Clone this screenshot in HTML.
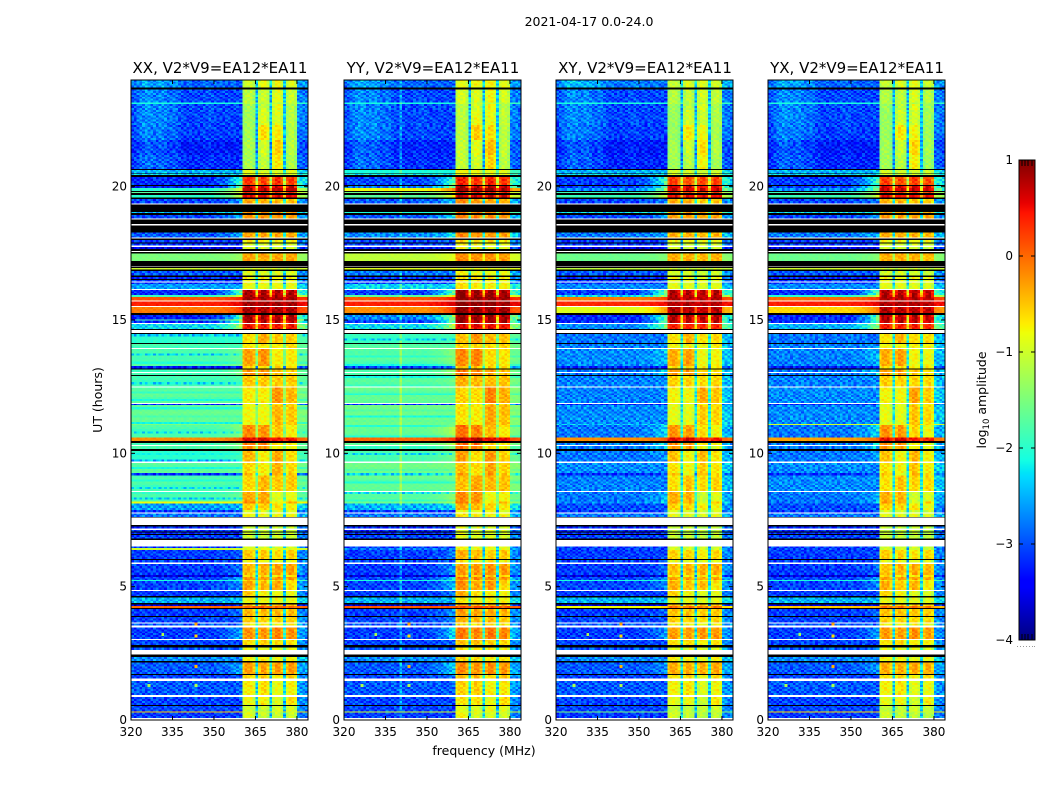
<!DOCTYPE html>
<html lang="en">
<head>
<meta charset="utf-8">
<title>2021-04-17 0.0-24.0</title>
<style>
html,body{margin:0;padding:0;background:#fff;}
body{width:1050px;height:800px;overflow:hidden;}
svg{display:block;}
text{font-family:"DejaVu Sans","Liberation Sans",sans-serif;fill:#000;}
</style>
</head>
<body>
<svg id="chart" xmlns="http://www.w3.org/2000/svg" width="1050" height="800" viewBox="0 0 1050 800">
<rect x="0" y="0" width="1050" height="800" fill="#fff"/>
<text x="589" y="26" font-size="12.5" text-anchor="middle">2021-04-17 0.0-24.0</text>
<text x="484" y="755" font-size="12.5" text-anchor="middle">frequency (MHz)</text>
<text x="102" y="400" font-size="12.5" text-anchor="middle" transform="rotate(-90 102 400)">UT (hours)</text>
<text x="986" y="400" font-size="12.5" text-anchor="middle" transform="rotate(-90 986 400)">log<tspan font-size="8.5" dy="3">10</tspan><tspan dy="-3"> amplitude</tspan></text>
<g id="panels"></g>
<g id="colorbar"></g>
</svg>
<script>
// Panel labels and axis ticks
const panelTitles = ["XX, V2*V9=EA12*EA11","YY, V2*V9=EA12*EA11","XY, V2*V9=EA12*EA11","YX, V2*V9=EA12*EA11"];
const freqTicks = [320,335,350,365,380];
const hourTicks = [0,5,10,15,20];
const colorTicks = [1,0,-1,-2,-3,-4];

// Start time (hours UT) of each time span; the last span ends at 24 h
const spanStartHours = [0,.08,.28,.32,.53,.56,.86,.94,1.46,1.56,1.69,1.73,2.15,2.21,2.37,2.45,2.63,2.71,2.81,3.0,
3.04,3.47,3.54,3.62,3.66,3.87,3.9,4.16,4.2,4.28,4.34,4.39,4.59,4.65,4.84,4.88,5.21,5.25,5.37,5.44,
5.85,5.91,6.0,6.04,6.38,6.45,6.5,6.75,6.8,6.94,6.97,7.03,7.07,7.12,7.19,7.25,7.31,7.6,7.62,7.75,
7.78,7.87,8.12,8.2,8.55,8.59,9.16,9.27,9.64,9.69,10.09,10.16,10.27,10.31,10.39,10.46,10.59,11.06,11.1,11.81,
11.85,11.89,12.47,12.51,12.9,12.94,13.02,13.05,13.14,13.18,13.28,13.91,13.95,14.1,14.14,14.47,14.51,14.62,14.66,14.85,
14.89,14.98,15.02,15.19,15.26,15.49,15.53,15.7,15.74,15.86,15.94,16.13,16.16,16.35,16.41,16.45,16.5,16.54,16.61,16.67,
16.84,16.89,16.95,17,17.03,17.21,17.49,17.55,17.59,17.66,17.74,17.8,17.87,17.9,18,18.06,18.09,18.28,18.54,18.6,
18.77,18.81,18.94,19.01,19.05,19.33,19.37,19.54,19.59,19.69,19.76,19.8,19.84,19.95,20.03,20.06,20.36,20.44,20.47,20.49,
20.63,20.66,21.19,21.75,22.31,22.88,23.1,23.16,23.65,23.72];

// Spans with no data (white) and flagged spans (black)
const whiteSpanStarts = [0,.86,1.46,2.45,3.0,3.47,3.62,4.84,5.85,6.5,7.12,7.31,7.75,8.55,9.64,10.27,11.85,12.47,13.02,13.91,14.51,14.85,15.49,15.7,16.13,16.41,17,17.55,17.74,18.06,18.54,18.77,19.33];
const blackSpanStarts = [.53,1.69,2.15,2.37,2.71,3.87,4.16,4.34,4.59,6.0,6.75,6.94,7.03,7.25,7.6,10.09,10.39,12.9,13.14,14.1,14.47,14.62,15.19,16.5,16.61,16.84,16.95,17.03,17.49,17.59,17.87,18,18.28,18.6,18.94,19.05,19.54,19.69,19.8,20.03,20.36,20.47,20.63,23.65];

// log10 amplitude below the band (320-350 MHz), one value per data span
const leftXX = [-3.1,-.5,-3.05,-3.05,-2.95,-3.05,-2.95,-2.7,-2.95,-3.05,
-3.1,-2.95,-3.05,-3.1,0,-3.6,-2.5,-3.1,-3.05,-2.1,
-3.05,-3.6,-3.1,-3.05,-3.1,-1,-3.1,-3.05,-3.2,-3.2,
-3.2,-2.8,-3.1,-2.6,-.8,-1.8,-1.8,-3.2,-1.7,-2,
-1.8,-1.8,-.2,-1.8,-1.5,-1.65,-3.2,-1.7,-1.85,-1.9,
-1.9,-3.3,-1.8,-1.8,-2,-2.3,-3.2,-1.8,-3.3,-.1,
.4,.1,-1.9,-3.2,-2.6,-3.1,-3.1,-3.2,-2.95,-1,
-1.5,-3.5,-3.1,-3.1,-2.95,-3.05,-2.5,-3.05,-2,-1.7,
-2,-3.3,-3.2,-2.3,-2.5,-3.2,-3.3,-3.1,-3.05,-3.05,
-2.1,-3.05,-2.9];
const leftYY = [-3.1,-1,-3.05,-3.05,-2.95,-3.05,-2.95,-2.7,-2.95,-3.05,
-3.1,-2.95,-3.05,-3.1,.1,-3.6,-2.5,-3.1,-3.05,-2.1,
-3.05,-3.6,-3.1,-3.05,-3.1,-2.8,-3.1,-3.05,-3.2,-3.2,
-3.2,-2.8,-3.1,-2.5,-1.6,-1.7,-1.65,-2.3,-1.6,-1.8,
-1.7,-1.7,0,-1.65,-1.6,-1.6,-3.2,-1.65,-1.75,-1.8,
-1.8,-3.05,-1.75,-1.75,-1.9,-2.3,-3.1,-2.95,-2.7,-.2,
.4,.1,-1.7,-3.1,-2.3,-3.05,-3.05,-3.1,-2.8,-.9,
-1.1,-3.3,-3.05,-3.05,-2.7,-2.95,-2.1,-2.95,-1.7,-1.6,
-.8,-2.8,-3.05,-2.2,-2.1,-3.2,-3.25,-3.05,-3.05,-3.05,
-2.1,-3.05,-2.9];
const leftXY = [-3.1,-1.5,-3.05,-3.05,-2.95,-3.05,-2.95,-2.7,-2.95,-3.05,
-3.1,-2.95,-3.05,-3.1,-.8,-3.6,-2.5,-3.1,-3.05,-2.1,
-3.05,-3.6,-3.1,-3.05,-3.1,-3.05,-3.1,-3.05,-3.2,-3.2,
-3.2,-2.8,-3.1,-3,-2.7,-2.8,-2.75,-3.2,-2.7,-2.8,
-2.8,-2.8,-.2,-2.8,-2.4,-2.7,-3.2,-2.75,-2.75,-2.8,
-2.8,-3.2,-2.7,-2.75,-2.8,-2.7,-3.2,-3.3,-3.2,-.9,
.35,-.1,-2.3,-3.1,-2.7,-3.1,-3.1,-3.2,-2.95,-1.1,
-1.6,-3.5,-3.1,-3.1,-2.8,-3.05,-2.3,-3.05,-1.9,-1.9,
-2.7,-3.1,-3.1,-2.3,-2.5,-3.25,-3.3,-3.1,-3.05,-3.05,
-2.1,-3.05,-2.8];
const leftYX = [-3.1,-.6,-3.05,-3.05,-2.95,-3.05,-2.95,-2.7,-2.95,-3.05,
-3.1,-2.95,-3.05,-3.1,-.5,-3.6,-2.5,-3.1,-3.05,-2.1,
-3.05,-3.6,-3.1,-3.05,-3.1,-3.05,-3.1,-3.05,-3.2,-3.2,
-3.2,-2.8,-3.1,-3,-2.8,-2.8,-2.7,-3.2,-2.7,-2.8,
-2.8,-2.8,-.3,-2.8,-1,-2.7,-3.2,-2.7,-2.75,-2.8,
-2.8,-3.3,-2.75,-2.75,-2.8,-2.5,-3.2,-3.2,-3.2,-.6,
.4,0,-2,-3.2,-2.7,-3.1,-3.1,-3.2,-2.95,-1,
-1.6,-3.5,-3.1,-3.1,-2.8,-3.05,-2.3,-3.05,-1.9,-1.9,
-2.7,-3.1,-3.1,-2.3,-2.5,-3.25,-3.3,-3.1,-3.05,-3.05,
-2.1,-3.05,-2.9];

// log10 amplitude of the four sub-bands (360-380 MHz), one value per data span
const band1 = [-.9,-1,-1,-.8,-.7,-.6,-.3,-.7,-.8,-.6,
-.2,-.7,-.5,-.4,0,-.4,-.8,-.5,-.3,-.6,
-.2,-.6,-.4,-.8,-.5,-.9,-.9,-1,-1,-1,
-1,-.8,-.9,-.5,-.2,-.3,-.6,-.4,-.6,-.4,
-.2,-.1,.6,-.15,-.8,-.8,-.8,-.7,-.5,-.2,
-.2,-.6,-.3,-.7,-.6,.5,.8,.85,.85,.85,
.85,.85,.85,.85,-.8,-.8,-.8,-.7,-.9,-1,
-.3,-.9,-.9,-.7,-.3,-.2,-.2,-.3,.6,.3,
.8,.7,.3,-.9,-.9,-1.2,-1.2,-1.25,-1.25,-1.25,
-1.1,-1.1,-1];
const band2 = [-1,-1,-1,-.7,-.6,-.5,-.3,-.7,-.8,-.5,
-.2,-.7,-.5,-.4,0,-.4,-.8,-.7,-.4,-.6,
-.2,-.6,-.3,-.8,-.5,-.9,-.9,-1,-1,-1,
-1,-.8,-.9,-.5,-.3,-.3,-.4,-.8,-.7,-.7,
-.2,-.1,.7,-.2,-.8,-.8,-.8,-.7,-.5,-.2,
-.2,-.6,-.2,-.7,-.3,.5,.8,.85,.85,.85,
.85,.85,.85,.85,-.8,-.8,-.8,-.7,-.9,-1,
-.3,-.9,-.9,-.7,-.3,-.2,-.2,-.3,.6,.3,
.8,.7,.25,-.9,-.9,-1.05,-.95,-.6,-.9,-1.05,
-1.1,-1,-.85];
const band3 = [-1,-1,-.9,-.9,-.8,-.7,-.25,-.8,-.8,-.6,
-.1,-.7,-.5,-.4,0,-.4,-.8,-.8,-.3,-.6,
-.2,-.6,-.25,-.8,-.6,-.9,-.9,-1,-1,-1,
-1,-.8,-.9,-.6,-.8,-.9,-.5,-.3,-.4,-.3,
-.7,-.6,.5,-.5,-.4,-.4,-.6,-.2,-.5,-.4,
-.4,-.6,-.7,-.7,-.5,.5,.8,.85,.85,.85,
.85,.85,.85,.85,-.8,-.8,-.8,-.7,-.9,-1,
-.3,-.9,-.9,-.7,-.3,-.2,-.2,-.4,.6,.3,
.8,.7,.35,-.9,-.9,-.65,-.5,-.7,-.9,-.8,
-1.1,-.85,-.8];
const band4 = [-1,-1,-.9,-.6,-.7,-.5,-.25,-.7,-.8,-.6,
-.15,-.7,-.5,-.4,0,-.4,-.8,-.8,-.6,-.6,
-.2,-.6,-.25,-.8,-.5,-.9,-.9,-1,-1,-1,
-1,-.8,-.9,-.7,-.4,-.8,-.5,-.5,-.6,-.6,
-.8,-.7,.5,-.7,-.5,-.5,-.6,-.4,-.5,-.5,
-.5,-.6,-.7,-.6,-.5,.5,.8,.85,.85,.85,
.85,.85,.85,.85,-.8,-.8,-.8,-.7,-.9,-1,
-.3,-.9,-.9,-.7,-.3,-.2,-.2,-.4,.6,.3,
.8,.7,.3,-.9,-.9,-1.15,-1.1,-1.15,-1.1,-1.15,
-1.1,-1,-.9];

// Per-polarisation sub-band offsets
const bandOffsetXX = [0,0,0,0];
const bandOffsetYY = [.15,.1,.1,.05];
const bandOffsetXY = [-.05,-.05,-.1,-.05];
const bandOffsetYX = [-.05,-.05,-.05,-.1];

// Fraction of the way from the below-band level to the band level, per 1 MHz channel
const channelWeight = [0,0,0,0,0,0,0,0,0,0,0,0,0,0,0,0,0,0,0,0,0,0,0,0,0,0,0,0,0,0,
.03,.05,.07,.09,.12,.15,.2,.25,.3,.38,
.92,1,1,1,.92,.6,.92,1,1,.92,.6,.92,1,1,.92,.6,.92,1,1,.92,
.35,.3,.28,.25];
// Sub-band index per channel from 40 upward
const subBandOfChannel = [0,0,0,0,0,0,1,1,1,1,1,2,2,2,2,2,3,3,3,3,3,3,3,3];

// Brighter patch in the quiet spans after 20.6 h, channels 0-29
const topPatchFromHour = 20.66;
const topPatch = [.05,.1,.2,.3,.35,.4,.4,.35,.3,.3,.35,.35,.3,.2,.2,.25,.2,.1,.05,0,0,0,0,0,0,0,.05,.05,.1,.05];

// Row banding seen through the 8-14 h green spans of XX and YY (tiled)
const greenStripe = [0,-.05,-.4,0,.05,0,-.15,0,0,-.5,0,-.05,0,-.25,.05,0,-.1,-.4,0,0];

// Fine grain read from the noise in the quiet spans (log10 offset, tiled)
const grain = [
[.25,-.2,.1,-.3,.35,-.1,-.25,.2,-.3,.1,.3,-.2,0,-.35,.25,.1],
[-.15,.3,-.3,.1,-.2,.25,.05,-.35,.2,-.1,-.25,.35,-.05,.15,-.3,.2],
[.1,-.35,.2,.3,-.1,-.3,.35,.05,-.2,.25,.1,-.3,.2,-.15,.05,-.25],
[-.3,.15,-.05,-.2,.3,.1,-.25,.25,.05,-.35,.2,.05,-.3,.3,-.1,.15],
[.3,-.05,-.25,.2,-.15,-.35,.15,-.1,.3,.05,-.2,-.1,.35,-.25,.2,-.05],
[-.1,.2,.35,-.25,.05,.2,-.3,.3,-.15,-.05,.25,-.35,.1,.05,-.2,.3],
[.05,-.3,.1,.25,-.35,.15,.2,-.2,.1,.3,-.3,.15,-.1,.25,.1,-.35],
[-.25,.1,-.15,-.05,.25,-.2,.05,.35,-.3,.15,.05,.25,-.25,-.1,.3,0]];

// Narrow interference: spot positions and strength, and one persistent channel in YY
const spotFreqs = [343,343,343,343,331,326];
const spotHours = [3.15,2.0,3.6,1.3,3.2,1.3];
const spotLevels = [-.6,-.4,-.3,-1.2,-1.2,-1.2];
const spurChannelYY = [20];
const spurBoostYY = .45;

const NS = "http://www.w3.org/2000/svg";
const plotLeft = [131,344,556,768];
const plotWidth = 177, plotTop = 80, plotBottom = 720;
const freqMin = 320, freqMax = 384, hourMin = 0, hourMax = 24;
const leftByPanel = [leftXX,leftYY,leftXY,leftYX];
const offsetByPanel = [bandOffsetXX,bandOffsetYY,bandOffsetXY,bandOffsetYX];
const bandsBySub = [band1,band2,band3,band4];
const barTop = 160, barBottom = 640, barLeft = 1019, barRight = 1035;
const bandEdgeChannel = 40, bandEdgeShift = .4;

function xScale(p,f){return plotLeft[p]+(f-freqMin)/(freqMax-freqMin)*plotWidth;}
function yScale(h){return plotBottom-(h-hourMin)/(hourMax-hourMin)*(plotBottom-plotTop);}
function colorY(v){return barBottom-(v+4)/5*(barBottom-barTop);}
function lerpTable(x,xs,ys){
  for(let i=1;i<xs.length;i++){
    if(x<=xs[i]) return ys[i-1]+(ys[i]-ys[i-1])*(x-xs[i-1])/(xs[i]-xs[i-1]);
  }
  return ys[ys.length-1];
}
function jet(v){
  const x=Math.max(0,Math.min(1,(v+4)/5));
  const r=lerpTable(x,[0,.35,.66,.89,1],[0,0,1,1,.5]);
  const g=lerpTable(x,[0,.125,.375,.64,.91,1],[0,0,1,1,0,0]);
  const b=lerpTable(x,[0,.11,.34,.65,1],[.5,1,1,0,0]);
  return "rgb("+Math.round(r*255)+","+Math.round(g*255)+","+Math.round(b*255)+")";
}
function make(tag,attrs,parent){
  const e=document.createElementNS(NS,tag);
  for(const k in attrs){e.setAttribute(k,attrs[k]);}
  parent.appendChild(e);
  return e;
}
function channelStart(c){return freqMin+c+(c===bandEdgeChannel?bandEdgeShift:0);}
function cellLevel(p,d,c,row,hour){
  let left=leftByPanel[p][d];
  const sub=c>=40?subBandOfChannel[c-40]:0;
  const band=bandsBySub[sub][d]+offsetByPanel[p][sub];
  const strength=Math.max(0,Math.min(1,(band+.6)/.8));
  const isGreen=left>-2.1&&left<-1.45;
  if(hour>=topPatchFromHour&&c<topPatch.length&&left<-2.6){left+=topPatch[c];}
  if(isGreen&&p<2&&hour>7.8&&hour<14.5){left+=greenStripe[row%greenStripe.length];}
  let w=channelWeight[c];
  if(c<40){w=w*strength;}
  else if(w<.9){w=w*Math.max(strength,.5);}
  let v=left+w*(band-left);
  const amp=w>=.9?.5:(left<-2.15?1:.2);
  const tile=Math.floor(row/grain.length)*7;
  v+=amp*grain[row%grain.length][(c+p*5+tile)%grain[0].length];
  if(p===1&&spurChannelYY.indexOf(c)>=0&&left<-1.5){v+=spurBoostYY;}
  return v;
}

const panelsGroup=document.getElementById("panels");
const panelNames=["xx","yy","xy","yx"];
panelTitles.forEach(function(title,p){
  const g=make("g",{},panelsGroup);
  
  
  const cells=make("g",{"shape-rendering":"crispEdges"},g);
  
  
  let d=0,row=p*3;
  spanStartHours.forEach(function(start,s){
    const end=s+1<spanStartHours.length?spanStartHours[s+1]:hourMax;
    const top=yScale(end),bottom=yScale(start);
    const isWhite=whiteSpanStarts.indexOf(start)>=0;
    const isBlack=blackSpanStarts.indexOf(start)>=0;
    if(isWhite||isBlack){
      const r=make("rect",{x:xScale(p,freqMin),y:top,width:plotWidth,height:bottom-top,fill:isWhite?"#fff":"#000"},cells);
      
      
      return;
    }
    const pieces=Math.max(1,Math.round((bottom-top)/2));
    const h=(bottom-top)/pieces;
    for(let i=0;i<pieces;i++){
      for(let c=0;c<64;c++){
        const x0=xScale(p,channelStart(c)),x1=xScale(p,channelStart(c+1));
        const r=make("rect",{x:x0,y:top+i*h,width:x1-x0,height:h,fill:jet(cellLevel(p,d,c,row,start))},cells);
        
        
      }
      row++;
    }
    d++;
  });
  spotFreqs.forEach(function(f,i){
    const x0=xScale(p,f),x1=xScale(p,f+1),y0=yScale(spotHours[i]);
    const r=make("rect",{x:x0,y:y0-1.5,width:x1-x0,height:3,fill:jet(spotLevels[i])},cells);
    
    
  });

  const frame=make("rect",{x:plotLeft[p],y:plotTop,width:plotWidth,height:plotBottom-plotTop,fill:"none",stroke:"#000","stroke-width":1},g);
  
  

  const t=make("text",{x:plotLeft[p]+plotWidth/2+.5,y:73,"font-size":15,"text-anchor":"middle"},g);
  
  
  t.textContent=title;

  freqTicks.forEach(function(f){
    const x=xScale(p,f);
    const a=make("line",{x1:x,x2:x,y1:plotBottom,y2:plotBottom-4,stroke:"#000","stroke-width":1},g);
    
    
    const b=make("line",{x1:x,x2:x,y1:plotTop,y2:plotTop+4,stroke:"#000","stroke-width":1},g);
    
    
    const l=make("text",{x:x,y:736,"font-size":12,"text-anchor":"middle"},g);
    
    
    l.textContent=String(f);
  });
  hourTicks.forEach(function(h){
    const y=yScale(h);
    const a=make("line",{x1:plotLeft[p],x2:plotLeft[p]+4,y1:y,y2:y,stroke:"#000","stroke-width":1},g);
    
    
    const b=make("line",{x1:plotLeft[p]+plotWidth,x2:plotLeft[p]+plotWidth-4,y1:y,y2:y,stroke:"#000","stroke-width":1},g);
    
    
    const l=make("text",{x:plotLeft[p]-4,y:y+4,"font-size":12,"text-anchor":"end"},g);
    
    
    l.textContent=String(h);
  });
});

// Colour bar
const barGroup=document.getElementById("colorbar");
const barSwatches=make("g",{"shape-rendering":"crispEdges"},barGroup);


for(let y=barTop;y<barBottom;y++){
  const v=1-(y+.5-barTop)/(barBottom-barTop)*5;
  const r=make("rect",{x:barLeft,y:y,width:barRight-barLeft,height:1,fill:jet(v)},barSwatches);
  
  
}
const barFrame=make("rect",{x:barLeft,y:barTop,width:barRight-barLeft,height:barBottom-barTop,fill:"none",stroke:"#000","stroke-width":1},barGroup);


colorTicks.forEach(function(v){
  const y=colorY(v);
  const a=make("line",{x1:barLeft,x2:barLeft+4,y1:y,y2:y,stroke:"#000","stroke-width":1},barGroup);
  
  
  const b=make("line",{x1:barRight,x2:barRight-4,y1:y,y2:y,stroke:"#000","stroke-width":1},barGroup);
  
  
  const l=make("text",{x:1013,y:y+4,"font-size":12,"text-anchor":"end"},barGroup);
  
  
  l.textContent=v<0?"\u2212"+Math.abs(v):String(v);
});
[1022,1025,1028,1032].forEach(function(x){
  const a=make("line",{x1:x,x2:x,y1:barTop,y2:barTop+6,stroke:"#000","stroke-width":1},barGroup);
  
  
  const b=make("line",{x1:x,x2:x,y1:barBottom,y2:barBottom-6,stroke:"#000","stroke-width":1},barGroup);
  
  
});
[1017,1020,1023,1026,1029,1032,1034].forEach(function(x){
  const r=make("rect",{x:x,y:646,width:1,height:1,fill:"#999"},barGroup);
  
  
});
</script>
</body>
</html>
